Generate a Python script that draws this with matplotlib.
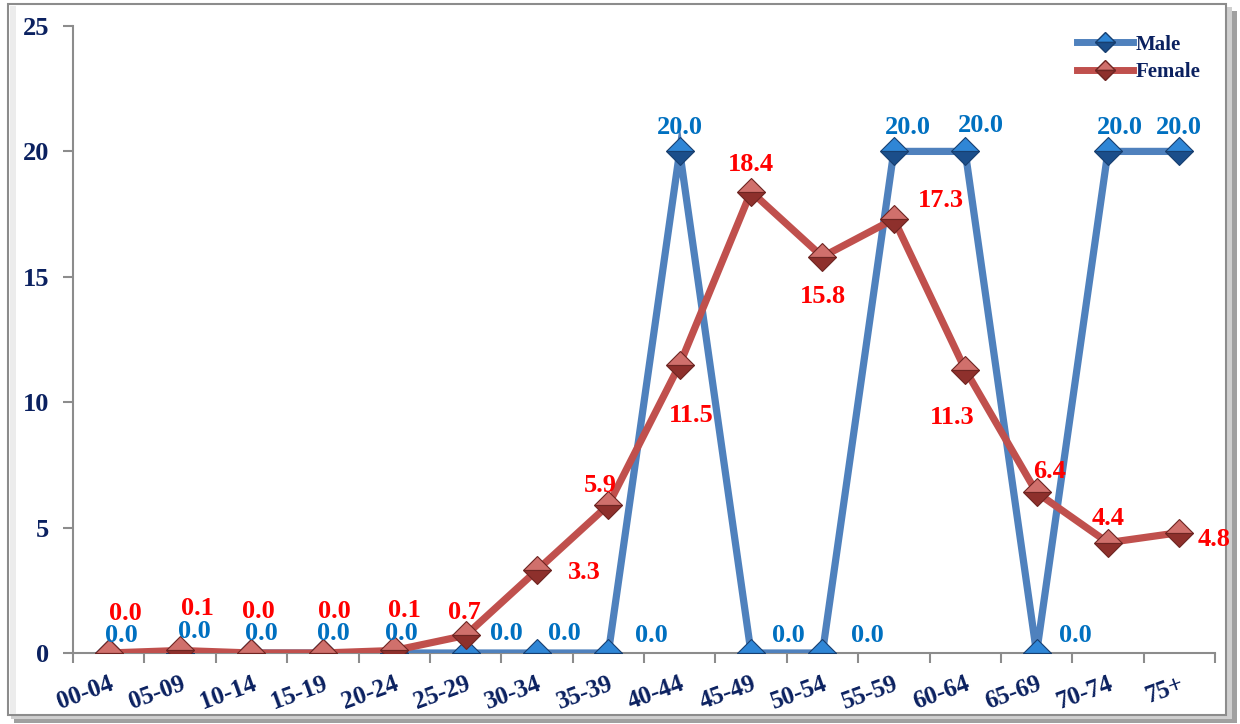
import matplotlib
matplotlib.use("Agg")
import matplotlib.pyplot as plt
from matplotlib.patches import Rectangle
from matplotlib.lines import Line2D

# ---- data ----
categories = ["00-04", "05-09", "10-14", "15-19", "20-24", "25-29", "30-34", "35-39",
              "40-44", "45-49", "50-54", "55-59", "60-64", "65-69", "70-74", "75+"]
male = [0.0, 0.0, 0.0, 0.0, 0.0, 0.0, 0.0, 0.0, 20.0, 0.0, 0.0, 20.0, 20.0, 0.0, 20.0, 20.0]
female = [0.0, 0.1, 0.0, 0.0, 0.1, 0.7, 3.3, 5.9, 11.5, 18.4, 15.8, 17.3, 11.3, 6.4, 4.4, 4.8]
yticks = [0, 5, 10, 15, 20, 25]

# label offsets in pixels (dx right, dy down) - styling only
male_off = [(13, -17), (14, -21), (10, -19), (11, -19), (7, -19), (41, -19), (27, -19), (43, -17),
            (0, -24), (37, -17), (45, -17), (14, -24), (16, -26), (39, -17), (12, -24), (0, -24)]
female_off = [(17, -40), (17, -42), (7, -41), (12, -41), (10, -40), (-1, -23), (47, 2), (-8, -20),
              (12, 51), (0, -27), (0, 40), (47, -19), (-13, 48), (13, -21), (0, -24), (35, 7)]

plt.rcParams['font.family'] = ['Liberation Serif', 'DejaVu Serif']
navy = '#0B2160'
male_line = '#4F81BD'
female_line = '#C0504D'

fig = plt.figure(figsize=(12.4, 7.24), dpi=100)
fig.patch.set_facecolor('white')

# frame with shadow
fig.add_artist(Rectangle((14/1240, 1/724), 1223/1240, 712/724, transform=fig.transFigure,
                         facecolor='#a0a0a0', edgecolor='none', zorder=0))
fig.add_artist(Rectangle((11/1240, 5/724), 1221/1240, 712/724, transform=fig.transFigure,
                         facecolor='#cfcfcf', edgecolor='none', zorder=0))
fig.add_artist(Rectangle((8/1240, 9/724), 1218/1240, 711/724, transform=fig.transFigure,
                         facecolor='white', edgecolor='#8c8c8c', lw=1.5, zorder=0))
fig.add_artist(Rectangle((9.5/1240, 10/724), 6/1240, 708/724, transform=fig.transFigure,
                         facecolor='#ececec', edgecolor='none', zorder=0))

ax = fig.add_axes([73/1240, 1 - 653/724, (1215 - 73)/1240, (653 - 26)/724])
ax.set_facecolor('none')
x = list(range(len(categories)))

ax.plot(x, male, color=male_line, lw=5.2, zorder=3, solid_joinstyle='miter')
ax.plot(x, male, linestyle='none', marker='D', ms=14.5, fillstyle='top',
        markerfacecolor='#2F86D6', markerfacecoloralt='#1B4E8A', markeredgecolor='#173F70',
        markeredgewidth=0.8, zorder=4)
ax.plot(x, female, color=female_line, lw=5.2, zorder=5, solid_joinstyle='miter')
ax.plot(x, female, linestyle='none', marker='D', ms=14.5, fillstyle='top',
        markerfacecolor='#D0706C', markerfacecoloralt='#8E302C', markeredgecolor='#6E2522',
        markeredgewidth=0.8, zorder=6)

for i, v in enumerate(male):
    dx, dy = male_off[i]
    ax.annotate(f"{v:.1f}", (i, v), xytext=(dx * 0.72, -dy * 0.72), textcoords='offset points',
                ha='center', va='center', color='#0070C0', fontsize=19, fontweight='bold',
                zorder=7, annotation_clip=False)
for i, v in enumerate(female):
    dx, dy = female_off[i]
    ax.annotate(f"{v:.1f}", (i, v), xytext=(dx * 0.72, -dy * 0.72), textcoords='offset points',
                ha='center', va='center', color='#FF0000', fontsize=19, fontweight='bold',
                zorder=8, annotation_clip=False)

ax.set_xlim(-0.5, len(categories) - 0.5)
ax.set_ylim(0, 25)
ax.set_yticks(yticks)
ax.set_yticklabels([str(t) for t in yticks], fontsize=19, fontweight='bold', color=navy)
ax.set_xticks([i + 0.5 for i in range(-1, len(categories))])
ax.set_xticklabels([])
ax.set_xticks(x, minor=True)
ax.set_xticklabels(categories, minor=True, rotation=20, ha='right', va='top',
                   rotation_mode='anchor', fontsize=18, fontweight='bold', color=navy)
ax.tick_params(axis='x', which='minor', length=0, pad=14)
ax.tick_params(axis='x', which='major', length=7, width=1.5, color='#8c8c8c', direction='out')
ax.tick_params(axis='y', length=7, width=1.5, color='#8c8c8c', direction='out', pad=10)
for s in ['top', 'right']:
    ax.spines[s].set_visible(False)
for s in ['left', 'bottom']:
    ax.spines[s].set_color('#8c8c8c')
    ax.spines[s].set_linewidth(1.5)

h1 = Line2D([], [], color=male_line, lw=5, marker='D', ms=10, fillstyle='top',
            markerfacecolor='#2F86D6', markerfacecoloralt='#1B4E8A', markeredgecolor='#173F70')
h2 = Line2D([], [], color=female_line, lw=5, marker='D', ms=10, fillstyle='top',
            markerfacecolor='#D0706C', markerfacecoloralt='#8E302C', markeredgecolor='#6E2522')
leg = ax.legend([h1, h2], ['Male', 'Female'], loc='upper left',
                bbox_to_anchor=(1062/1240, 1 - 20/724), bbox_transform=fig.transFigure,
                frameon=False, handlelength=2.7, handletextpad=0.15, labelspacing=0.35,
                borderpad=0.2, prop={'family': 'Liberation Serif', 'weight': 'bold', 'size': 15})
for t in leg.get_texts():
    t.set_color(navy)

fig.savefig('out.png', dpi=100)
